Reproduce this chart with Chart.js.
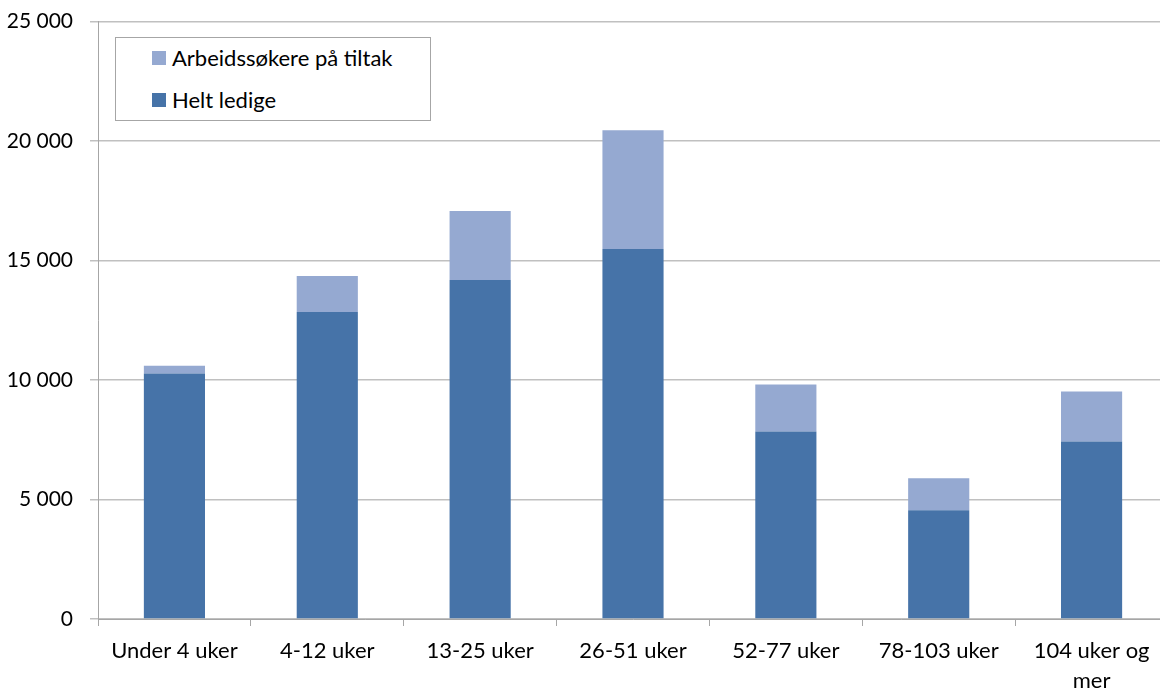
<!DOCTYPE html>
<html>
<head>
<meta charset="utf-8">
<script src="https://cdn.jsdelivr.net/npm/chart.js@4.4.1/dist/chart.umd.min.js"></script>
<style>
  html, body { margin: 0; padding: 0; background: #fff; overflow: hidden; width: 1160px; height: 690px; }
  #chart { position: absolute; left: 0; top: -8px; }
  #legend {
    position: absolute; left: 115px; top: 37px; width: 314px; height: 82px;
    border: 1px solid #a6a6a6; background: #fff;
    font-family: Lato, "Open Sans", sans-serif; font-size: 22px; color: #000;
  }
  .item { position: absolute; left: 36px; display: flex; align-items: center; line-height: 26px; }
  .item span.sw { width: 14px; height: 14px; margin-right: 6px; display: inline-block; }
</style>
</head>
<body>
<canvas id="chart" width="1168" height="698"></canvas>
<div id="legend">
  <div class="item" style="top:7px"><span class="sw" style="background:#95a9d1"></span>Arbeidssøkere på tiltak</div>
  <div class="item" style="top:49px"><span class="sw" style="background:#4673a8"></span>Helt ledige</div>
</div>
<script>
// Varighet som ledig
const categories = ['Under 4 uker', '4-12 uker', '13-25 uker', '26-51 uker', '52-77 uker', '78-103 uker', ['104 uker og', 'mer']];
const heltLedige = [10270, 12850, 14190, 15480, 7850, 4550, 7430];
const tiltak = [330, 1500, 2880, 4970, 1960, 1340, 2090];
const yTicks = [0, 5000, 10000, 15000, 20000, 25000];

const FONT = { family: 'Lato, "Open Sans", sans-serif', size: 22 };

function formatNo(v) {
  return String(v).replace(/\B(?=(\d{3})+(?!\d))/g, ' ');
}

new Chart(document.getElementById('chart').getContext('2d'), {
  type: 'bar',
  data: {
    labels: categories,
    datasets: [
      { label: 'Helt ledige', data: heltLedige, backgroundColor: '#4673a8' },
      { label: 'Arbeidssøkere på tiltak', data: tiltak, backgroundColor: '#95a9d1' }
    ]
  },
  options: {
    responsive: false,
    animation: false,
    layout: { padding: { top: 8, right: 0, bottom: 0, left: 0 } },
    plugins: { legend: { display: false }, tooltip: { enabled: false } },
    datasets: { bar: { barPercentage: 0.4, categoryPercentage: 1 } },
    scales: {
      x: {
        stacked: true,
        grid: { drawOnChartArea: false, drawTicks: true, tickLength: 7, color: '#a6a6a6' },
        border: { color: '#a6a6a6' },
        ticks: { color: '#000', font: { ...FONT, lineHeight: 1.35 }, padding: 10, maxRotation: 0, autoSkip: false },
        afterFit: s => { s.height = 71; }
      },
      y: {
        stacked: true,
        min: 0, max: 25000,
        afterBuildTicks: s => { s.ticks = yTicks.map(v => ({ value: v })); },
        grid: { color: '#c0c0c0', lineWidth: 1.5, tickLength: 8 },
        border: { color: '#a6a6a6' },
        ticks: { color: '#000', font: { ...FONT, size: 21 }, padding: 17, callback: v => formatNo(v) },
        afterFit: s => { s.width = 98; }
      }
    }
  }
});
</script>
</body>
</html>
